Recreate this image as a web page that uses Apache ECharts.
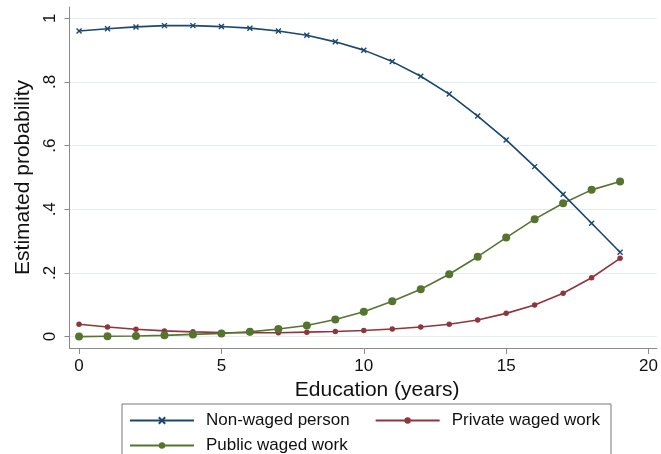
<!DOCTYPE html>
<html>
<head>
<meta charset="utf-8">
<script src="https://cdn.jsdelivr.net/npm/echarts@6/dist/echarts.min.js"></script>
<style>
html,body{margin:0;padding:0;background:#fff;}
#chart{width:661px;height:454px;}
</style>
</head>
<body>
<div id="chart"></div>
<script>
const education = [0,1,2,3,4,5,6,7,8,9,10,11,12,13,14,15,16,17,18,19];
const nonWaged = [0.960,0.967,0.973,0.977,0.977,0.974,0.969,0.960,0.947,0.926,0.900,0.864,0.818,0.762,0.693,0.618,0.534,0.447,0.356,0.265];
const privateWaged = [0.039,0.030,0.023,0.018,0.015,0.013,0.012,0.012,0.014,0.016,0.019,0.024,0.030,0.039,0.052,0.073,0.099,0.136,0.185,0.246];
const publicWaged = [0.000,0.001,0.002,0.004,0.007,0.010,0.015,0.024,0.035,0.054,0.078,0.111,0.149,0.196,0.251,0.311,0.369,0.419,0.461,0.487];
const xTicks = [0,5,10,15,20];
const yTicks = [0,0.2,0.4,0.6,0.8,1];
const yTickLabels = ['0','.2','.4','.6','.8','1'];
const seriesNames = ['Non-waged person','Private waged work','Public waged work'];

const FONT = '"Liberation Sans", Arial, sans-serif';
const zip = (xs, ys) => xs.map((x, i) => [x, ys[i]]);

const chart = echarts.init(document.getElementById('chart'), null, {renderer: 'canvas'});
chart.setOption({
  animation: false,
  backgroundColor: '#ffffff',
  textStyle: {fontFamily: FONT},
  grid: {left: 69.5, right: 0, top: 7, bottom: 106, containLabel: false},
  xAxis: {
    type: 'value',
    min: -0.335,
    max: 20.29,
    name: 'Education (years)',
    nameLocation: 'middle',
    nameGap: 29,
    nameTextStyle: {fontSize: 21, color: '#111', fontFamily: FONT, padding: [0, 0, 0, 28]},
    axisLine: {show: true, onZero: false, lineStyle: {color: '#8a8a8a', width: 1}},
    axisTick: {show: true, length: 6, inside: false, customValues: xTicks, lineStyle: {color: '#8a8a8a'}},
    axisLabel: {customValues: xTicks, fontSize: 17, color: '#111', margin: 10, fontFamily: FONT, hideOverlap: false, showMaxLabel: true},
    splitLine: {show: false}
  },
  yAxis: {
    type: 'value',
    min: -0.0358,
    max: 1.0355,
    name: 'Estimated probability',
    nameLocation: 'middle',
    nameGap: 36,
    nameRotate: 90,
    nameTextStyle: {fontSize: 21, color: '#111', fontFamily: FONT},
    axisLine: {show: true, onZero: false, lineStyle: {color: '#8a8a8a', width: 1}},
    axisTick: {show: true, length: 5, inside: false, customValues: yTicks, lineStyle: {color: '#8a8a8a'}},
    axisLabel: {
      customValues: yTicks, rotate: 90, fontSize: 17, color: '#111', margin: 11, fontFamily: FONT,
      formatter: v => { const i = yTicks.findIndex(t => Math.abs(t - v) < 1e-6); return i >= 0 ? yTickLabels[i] : ''; }
    },
    splitLine: {show: true, lineStyle: {color: '#e4eef2', width: 1}}
  },
  legend: {
    left: 122,
    top: 404,
    width: 480,
    orient: 'horizontal',
    padding: [8, 11, 30, 7],
    itemGap: 8,
    itemWidth: 64,
    itemHeight: 8,
    borderColor: '#777',
    borderWidth: 1,
    backgroundColor: '#fff',
    textStyle: {fontSize: 17, color: '#111', lineHeight: 16, fontFamily: FONT},
    data: [
      {name: seriesNames[0], textStyle: {padding: [0, 17, 0, 7]}},
      {name: seriesNames[1], textStyle: {padding: [0, 0, 0, 7]}},
      {name: seriesNames[2], textStyle: {padding: [0, 0, 0, 7]}}
    ]
  },
  series: [
    {
      name: seriesNames[0], type: 'line', data: zip(education, nonWaged),
      symbol: 'path://M0,0L10,10M10,0L0,10', symbolSize: 5,
      lineStyle: {color: '#1a476f', width: 1.6},
      itemStyle: {color: '#1a476f', borderColor: '#1a476f', borderWidth: 1.4},
      z: 3
    },
    {
      name: seriesNames[1], type: 'line', data: zip(education, privateWaged),
      symbol: 'circle', symbolSize: 5.5,
      lineStyle: {color: '#90353b', width: 1.6},
      itemStyle: {color: '#90353b', borderWidth: 0},
      z: 2
    },
    {
      name: seriesNames[2], type: 'line', data: zip(education, publicWaged),
      symbol: 'circle', symbolSize: 8,
      lineStyle: {color: '#55752f', width: 1.6},
      itemStyle: {color: '#55752f', borderWidth: 0},
      z: 2
    }
  ]
});
</script>
</body>
</html>
